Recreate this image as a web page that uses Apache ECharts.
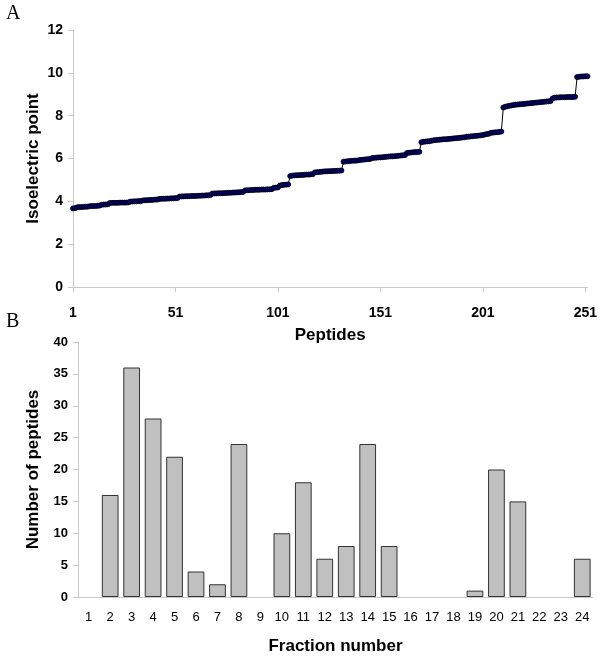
<!DOCTYPE html>
<html>
<head>
<meta charset="utf-8">
<script src="https://cdn.jsdelivr.net/npm/echarts@6/dist/echarts.min.js"></script>
<style>
html,body{margin:0;padding:0;background:#fff;}
#chart{width:600px;height:661px;}
</style>
</head>
<body>
<div id="chart"></div>
<script>
// Panel A: sorted isoelectric points of peptides
const pIValues = [
3.67,3.68,3.72,3.73,3.73,3.74,3.75,3.75,3.77,3.78,
3.78,3.78,3.79,3.80,3.84,3.85,3.85,3.86,3.92,3.93,
3.93,3.93,3.93,3.94,3.94,3.94,3.94,3.95,3.99,3.99,
4.00,4.00,4.01,4.01,4.04,4.05,4.05,4.06,4.06,4.07,
4.08,4.08,4.11,4.12,4.12,4.12,4.13,4.13,4.14,4.14,
4.15,4.15,4.22,4.23,4.23,4.24,4.24,4.24,4.25,4.25,
4.25,4.26,4.26,4.27,4.27,4.28,4.28,4.29,4.36,4.37,
4.37,4.38,4.38,4.38,4.39,4.39,4.40,4.40,4.41,4.41,
4.42,4.42,4.43,4.44,4.51,4.52,4.52,4.53,4.53,4.54,
4.54,4.54,4.55,4.55,4.55,4.56,4.56,4.57,4.63,4.64,
4.65,4.74,4.76,4.77,4.78,4.79,5.18,5.20,5.21,5.22,
5.22,5.23,5.23,5.24,5.25,5.25,5.26,5.27,5.35,5.36,
5.37,5.38,5.39,5.40,5.40,5.41,5.41,5.42,5.42,5.43,
5.43,5.44,5.85,5.86,5.87,5.88,5.89,5.90,5.90,5.91,
5.93,5.94,5.95,5.96,5.97,5.98,6.02,6.03,6.04,6.05,
6.05,6.06,6.07,6.08,6.09,6.10,6.10,6.11,6.12,6.13,
6.14,6.15,6.16,6.26,6.27,6.28,6.29,6.30,6.30,6.31,
6.76,6.78,6.79,6.80,6.81,6.83,6.85,6.86,6.87,6.88,
6.89,6.90,6.90,6.91,6.92,6.93,6.94,6.95,6.96,6.97,
6.98,6.99,7.01,7.02,7.03,7.04,7.05,7.06,7.07,7.08,
7.10,7.12,7.14,7.16,7.20,7.21,7.22,7.23,7.24,7.26,
8.38,8.42,8.44,8.46,8.48,8.50,8.51,8.52,8.53,8.54,
8.55,8.56,8.57,8.58,8.59,8.60,8.61,8.62,8.63,8.64,
8.65,8.66,8.67,8.68,8.80,8.84,8.85,8.85,8.86,8.86,
8.86,8.87,8.87,8.87,8.87,8.88,9.80,9.82,9.83,9.83,
9.84,9.84
];
const peptideLabels = pIValues.map((v, i) => String(i + 1));

// Panel B: number of peptides per fraction
const fractions = ['1','2','3','4','5','6','7','8','9','10','11','12','13','14','15','16','17','18','19','20','21','22','23','24'];
const peptideCounts = [0,16,36,28,22,4,2,24,0,10,18,6,8,24,8,0,0,0,1,20,15,0,0,6];

const chart = echarts.init(document.getElementById('chart'), null, {renderer: 'canvas'});
const axisGray = '#c8c8c8';
const fontFam = '"Liberation Sans", Arial, sans-serif';

const barData = peptideCounts.map(v => v === 0 ? {value: v, itemStyle: {borderWidth: 0, color: 'rgba(0,0,0,0)'}} : v);

chart.setOption({
  animation: false,
  backgroundColor: '#ffffff',
  graphic: [
    {type: 'text', left: 6, top: 4, style: {text: 'A', font: '20px "Liberation Serif", "Times New Roman", serif', fill: '#000'}},
    {type: 'text', left: 6, top: 312, style: {text: 'B', font: '20px "Liberation Serif", "Times New Roman", serif', fill: '#000'}}
  ],
  grid: [
    {left: 73, right: 12, top: 30, height: 257},
    {left: 78, right: 7, top: 342, height: 255}
  ],
  xAxis: [
    {
      gridIndex: 0, type: 'category', data: peptideLabels, boundaryGap: false,
      axisLine: {lineStyle: {color: axisGray, width: 1}},
      axisTick: {interval: 49, length: 5, lineStyle: {color: axisGray}},
      axisLabel: {interval: 49, margin: 19, color: '#000', fontWeight: 'bold', fontSize: 14, fontFamily: fontFam},
      name: 'Peptides', nameLocation: 'middle', nameGap: 40,
      nameTextStyle: {color: '#000', fontWeight: 'bold', fontSize: 17, fontFamily: fontFam}
    },
    {
      gridIndex: 1, type: 'category', data: fractions,
      axisLine: {lineStyle: {color: axisGray, width: 1}},
      axisTick: {length: 5, lineStyle: {color: axisGray}},
      axisLabel: {margin: 14, color: '#000', fontSize: 13, fontFamily: fontFam},
      name: 'Fraction number', nameLocation: 'middle', nameGap: 41,
      nameTextStyle: {color: '#000', fontWeight: 'bold', fontSize: 17, fontFamily: fontFam}
    }
  ],
  yAxis: [
    {
      gridIndex: 0, type: 'value', min: 0, max: 12, interval: 2,
      axisLine: {show: true, lineStyle: {color: axisGray, width: 1}},
      axisTick: {show: true, length: 5, lineStyle: {color: axisGray}},
      splitLine: {show: false},
      axisLabel: {margin: 10, color: '#000', fontWeight: 'bold', fontSize: 14, fontFamily: fontFam},
      name: 'Isoelectric point', nameLocation: 'middle', nameGap: 31, nameMoveOverlap: false,
      nameTextStyle: {color: '#000', fontWeight: 'bold', fontSize: 17, fontFamily: fontFam}
    },
    {
      gridIndex: 1, type: 'value', min: 0, max: 40, interval: 5,
      axisLine: {show: true, lineStyle: {color: axisGray, width: 1}},
      axisTick: {show: true, length: 5, lineStyle: {color: axisGray}},
      splitLine: {show: false},
      axisLabel: {margin: 10, color: '#000', fontWeight: 'bold', fontSize: 13, fontFamily: fontFam},
      name: 'Number of peptides', nameLocation: 'middle', nameGap: 36, nameMoveOverlap: false,
      nameTextStyle: {color: '#000', fontWeight: 'bold', fontSize: 17, fontFamily: fontFam}
    }
  ],
  series: [
    {
      type: 'line', xAxisIndex: 0, yAxisIndex: 0, data: pIValues,
      symbol: 'circle', symbolSize: 5, showAllSymbol: true,
      lineStyle: {color: '#000', width: 1},
      itemStyle: {color: '#000080', borderColor: '#000', borderWidth: 0.8}
    },
    {
      type: 'bar', xAxisIndex: 1, yAxisIndex: 1, data: barData,
      barCategoryGap: '22%',
      itemStyle: {color: '#c0c0c0', borderColor: '#333', borderWidth: 1}
    }
  ]
});
</script>
</body>
</html>
